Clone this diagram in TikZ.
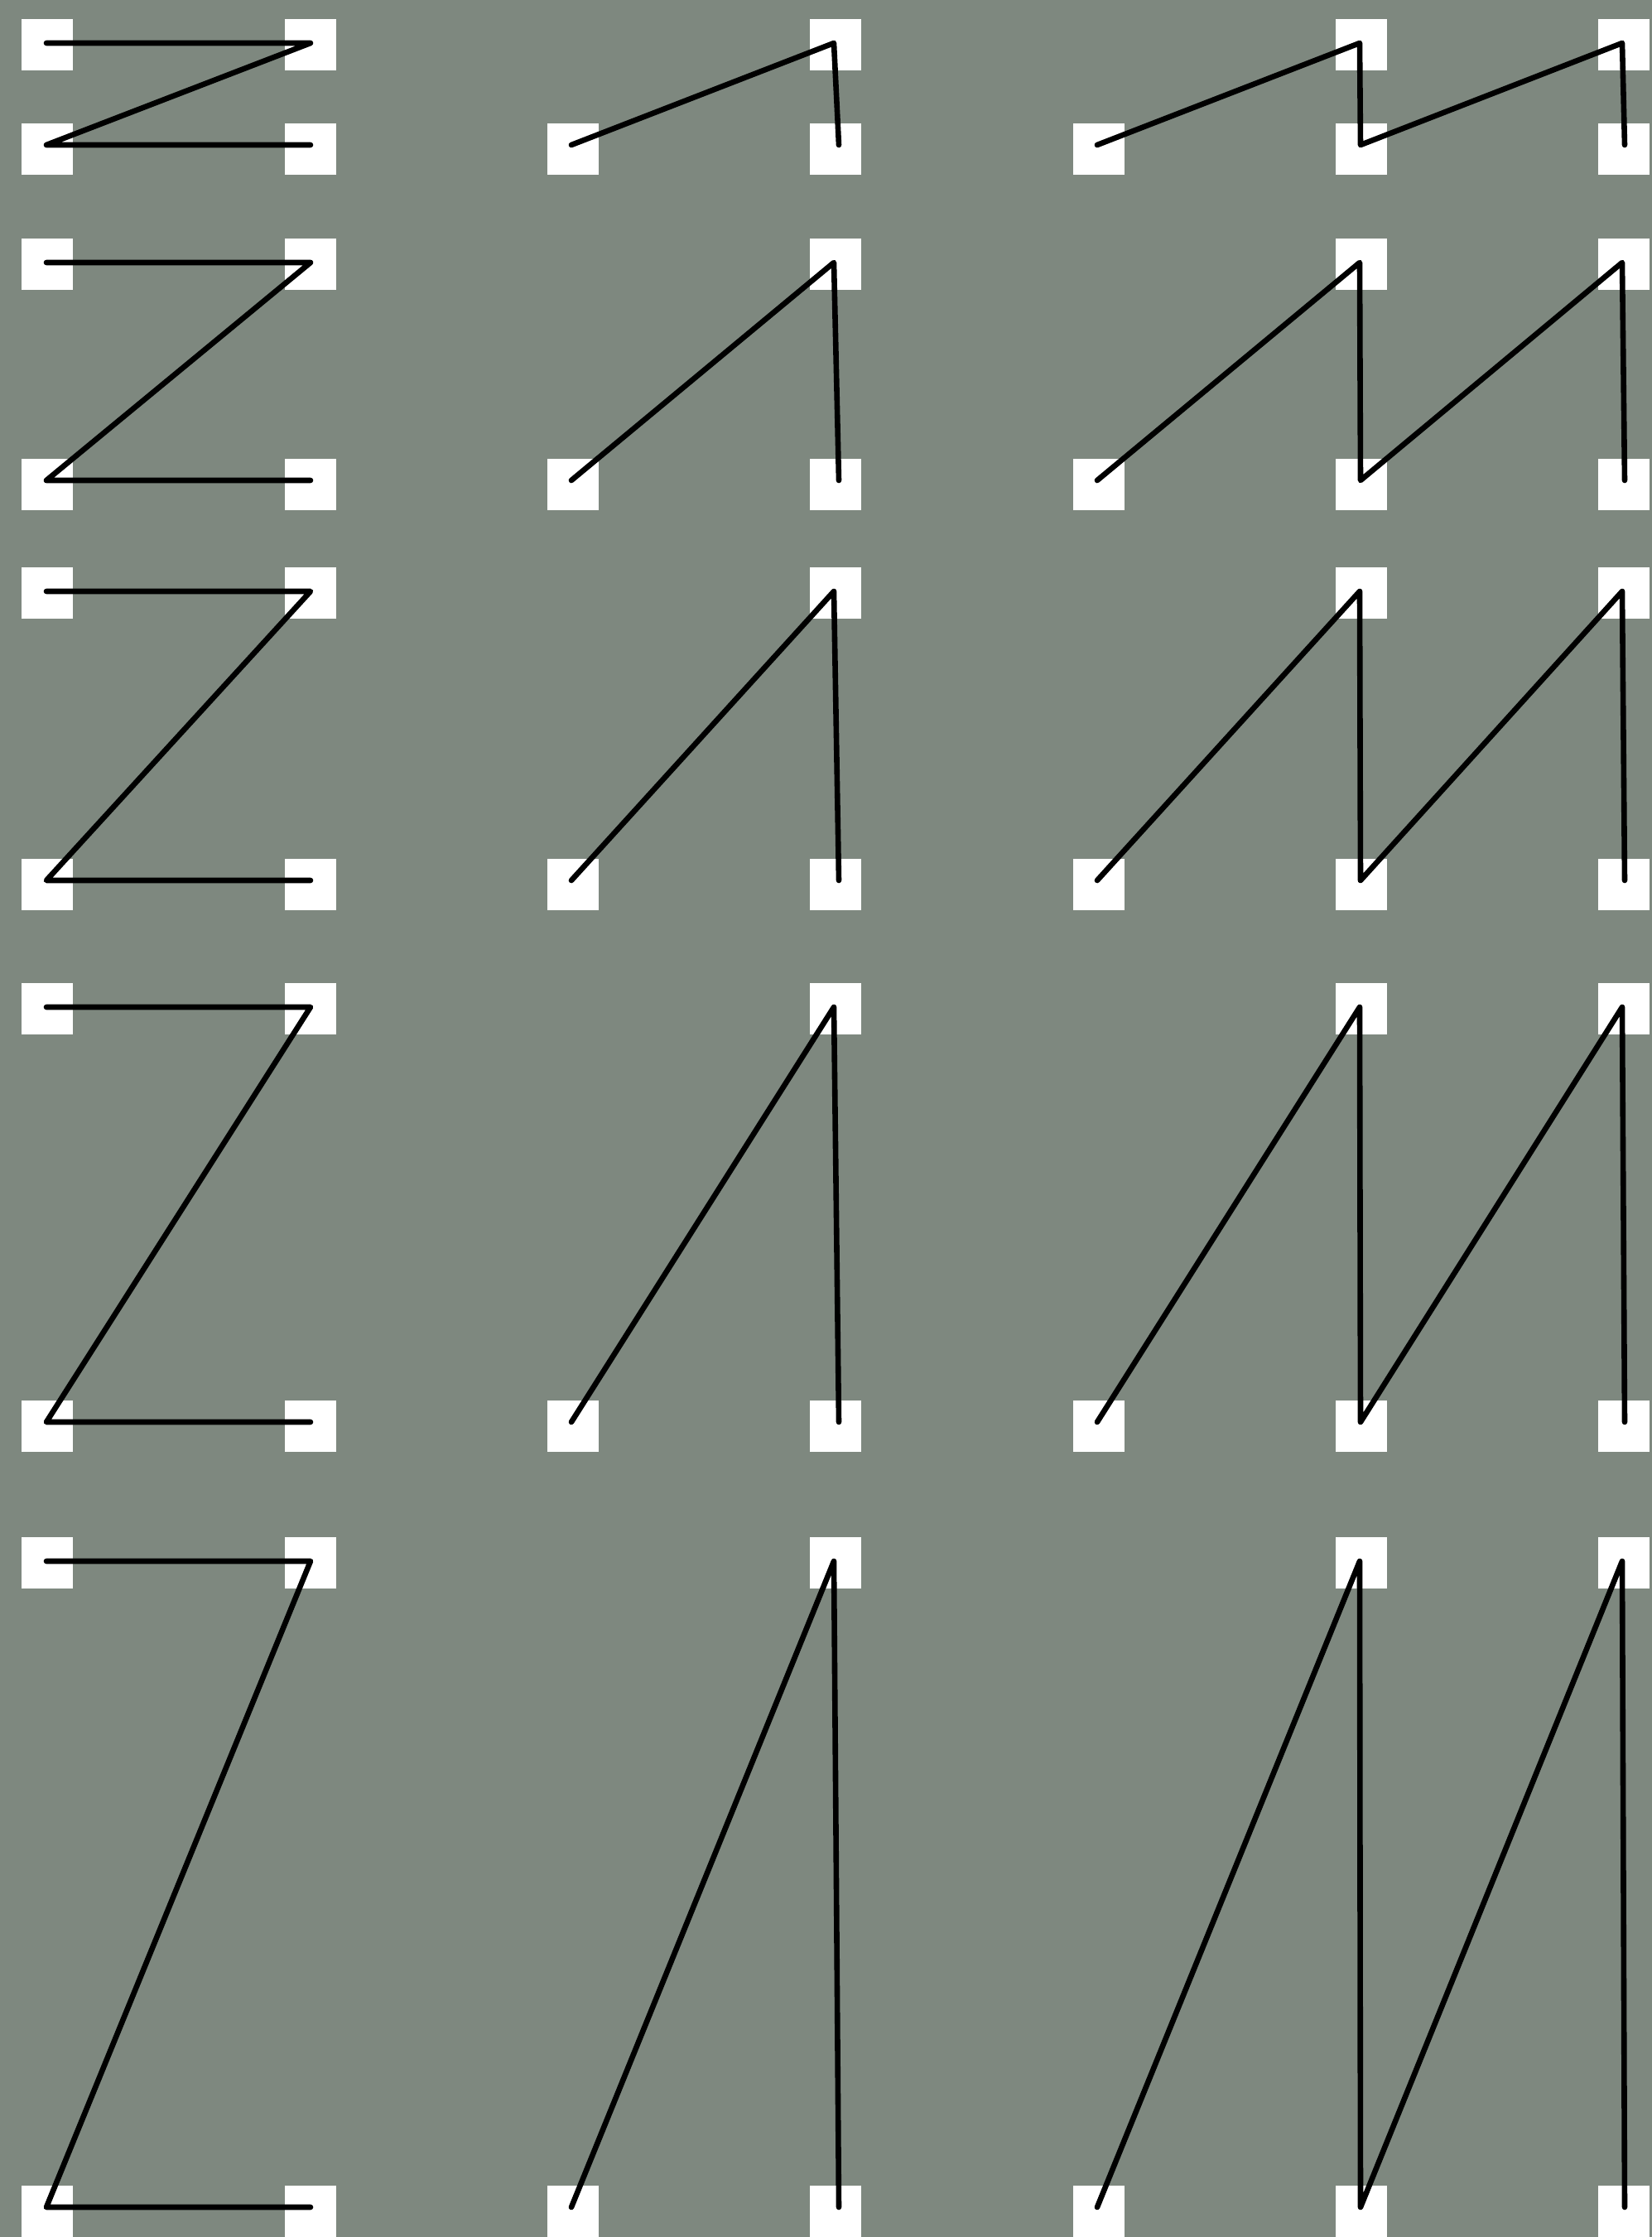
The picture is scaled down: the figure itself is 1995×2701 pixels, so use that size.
\documentclass[tikz,border=0pt]{standalone}
\definecolor{slate}{RGB}{126,136,127}

\begin{document}
\begin{tikzpicture}[
  x=0.01cm, y=-0.01cm,
  pad/.style  = {fill=white, inner sep=0pt, minimum size=0.62cm},
  wire/.style = {line width=0.066cm, line cap=round, line join=round},
]

  \fill[slate] (0,0) rectangle (1995,2701);

  \foreach \r/\t/\b in {1/52/175, 2/317/580, 3/714/1063, 4/1216/1717, 5/1885/2665} {
    % pads: five on the upper line, seven on the lower one
    \foreach \c/\x in {0/57, 1/375, 3/1009, 5/1644, 6/1961}
      \node[pad] (t\c-\r) at (\x,\t+2) {};
    \foreach \c/\x in {0/57, 1/375, 2/692, 3/1009, 4/1327, 5/1644, 6/1961}
      \node[pad] (b\c-\r) at (\x,\b+5) {};

    % Z
    \coordinate (za-\r) at (56,\t);
    \coordinate (zb-\r) at (375,\t);
    \coordinate (zc-\r) at (56,\b);
    \coordinate (zd-\r) at (375,\b);
    \draw[wire] (za-\r) -- (zb-\r) -- (zc-\r) -- (zd-\r);

    % single tooth
    \coordinate (ma-\r) at (690,\b);
    \coordinate (mb-\r) at (1007,\t);
    \coordinate (mc-\r) at (1013,\b);
    \draw[wire] (ma-\r) -- (mb-\r) -- (mc-\r);

    % double tooth
    \coordinate (ra-\r) at (1325,\b);
    \coordinate (rb-\r) at (1642,\t);
    \coordinate (rc-\r) at (1643,\b);
    \coordinate (rd-\r) at (1959,\t);
    \coordinate (re-\r) at (1962,\b);
    \draw[wire] (ra-\r) -- (rb-\r) -- (rc-\r) -- (rd-\r) -- (re-\r);
  }
\end{tikzpicture}
\end{document}
